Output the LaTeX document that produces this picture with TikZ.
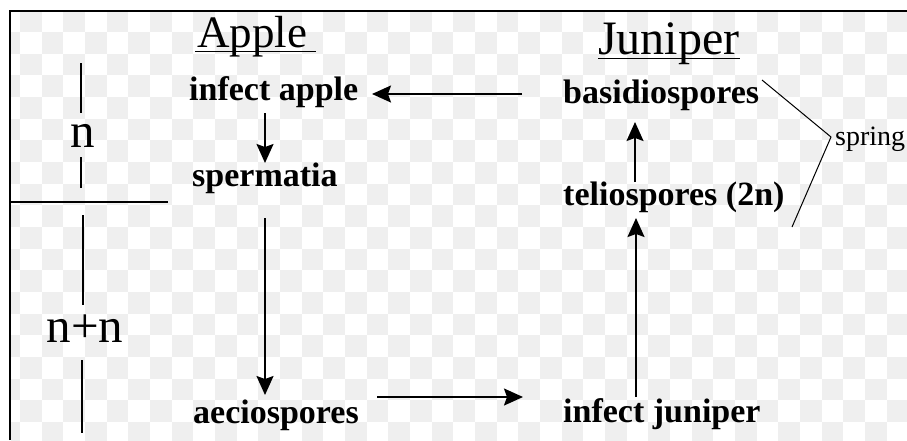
\documentclass[tikz,border=0pt]{standalone}
\usepackage{fontspec}
\setmainfont{Liberation Serif}
\usetikzlibrary{arrows.meta}
\definecolor{chk}{HTML}{EFEFEF}
\begin{document}
\begin{tikzpicture}[x=1pt,y=-1pt,
  lab/.style={inner sep=0pt,anchor=base west,font=\fontsize{34}{40}\selectfont\bfseries},
  head/.style={inner sep=0pt,anchor=base west},
  ploid/.style={inner sep=0pt,anchor=base,font=\fontsize{49}{56}\selectfont},
  arr/.style={line width=1.8pt,-{Stealth[length=19pt,width=17pt,inset=3pt]}},
  bar/.style={line width=1.6pt},
  thin/.style={line width=1pt}]
\useasboundingbox (0,0) rectangle (907,440);
\fill[white] (0,0) rectangle (907,440);
% checkerboard background
\begin{scope}
\clip (11,12) rectangle (907,440);
\foreach \i in {0,...,42}{
  \foreach \j in {0,...,20}{
    \ifodd\numexpr\i+\j\relax
      \fill[chk] ({-1.67+21.67*\i},{10.3+21.67*\j}) rectangle ++(21.67,21.67);
    \fi
  }
}
\end{scope}
% frame
\draw[line width=2pt] (10,440) -- (10,11) -- (907,11);
% headings
\node[head,font=\fontsize{45}{50}\selectfont] (apple) at (197,47) {Apple};
\node[head,font=\fontsize{48}{54}\selectfont] (juniper) at (598,54) {Juniper};
\draw[bar] ([shift={(-2,4.5)}]apple.base west) -- ([shift={(9,4.5)}]apple.base east);
\draw[bar] ([shift={(0,4.5)}]juniper.base west) -- ([shift={(0,4.5)}]juniper.base east);
% stage labels
\node[lab] (ia) at (189,100) {infect apple};
\node[lab] (sp) at (192,186) {spermatia};
\node[lab] (ae) at (193,423) {aeciospores};
\node[lab] (ba) at (563,103) {basidiospores};
\node[lab] (te) at (563,205) {teliospores (2n)};
\node[lab] (ij) at (563,422) {infect juniper};
\node[head,font=\fontsize{28}{32}\selectfont] (spring) at (835,145) {spring};
% arrows
\draw[arr] ([shift={(-41,-9)}]ba.base west) -- ([shift={(183,-6)}]ia.base west);
\draw[arr] ([shift={(76,13)}]ia.base west) -- ([shift={(73,-23)}]sp.base west);
\draw[arr] ([shift={(73,32)}]sp.base west) -- ([shift={(72,-28)}]ae.base west);
\draw[arr] ([shift={(184,-26)}]ae.base west) -- ([shift={(-40,-25)}]ij.base west);
\draw[arr] ([shift={(73,-25)}]ij.base west) -- ([shift={(73,13)}]te.base west);
\draw[arr] ([shift={(72,-23)}]te.base west) -- ([shift={(72,19)}]ba.base west);
% spring bracket
\draw[thin] ([shift={(199,-23)}]ba.base west) -- ([shift={(-4,-8)}]spring.base west) -- ([shift={(229,22)}]te.base west);
% ploidy
\node[ploid] (n1) at (83,147) {n};
\node[ploid] (n2) at (85,342) {n+n};
\draw[bar] ([shift={(-2,-84)}]n1.base) -- ([shift={(-2,-34)}]n1.base);
\draw[bar] ([shift={(-2,10)}]n1.base) -- ([shift={(-2,41)}]n1.base);
\draw[bar] (10,202) -- (168,202);
\draw[bar] ([shift={(-2,-127)}]n2.base) -- ([shift={(-2,-37)}]n2.base);
\draw[bar] ([shift={(-3,18)}]n2.base) -- ([shift={(-3,91)}]n2.base);
\end{tikzpicture}
\end{document}
